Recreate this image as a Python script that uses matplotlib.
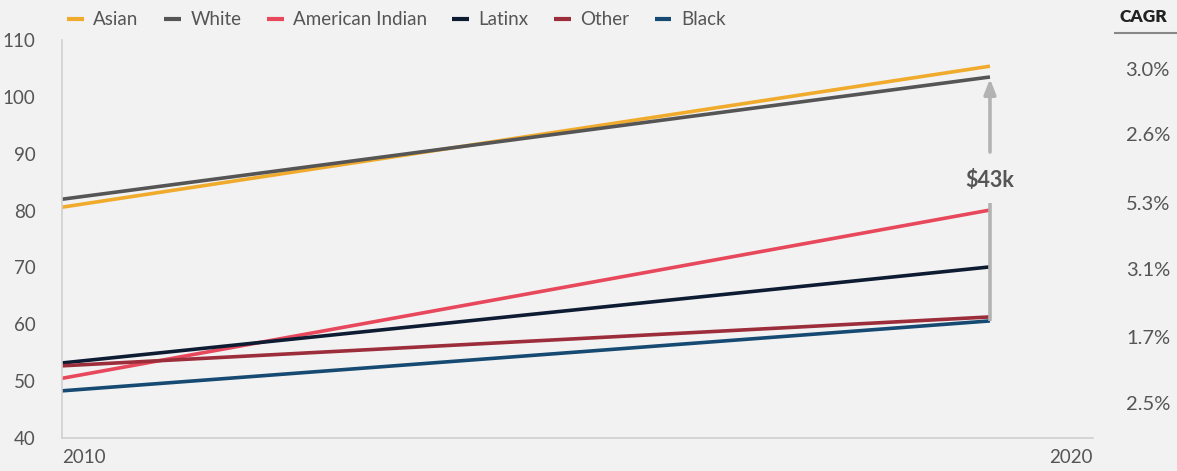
import numpy as np
import matplotlib.pyplot as plt

plt.rcParams['font.family'] = ['Lato', 'DejaVu Sans']

years = [2010, 2019]
groups = ["Asian", "White", "American Indian", "Latinx", "Other", "Black"]
start_values = [80.6, 82.0, 50.5, 53.2, 52.7, 48.3]
end_values = [105.4, 103.5, 80.1, 70.1, 61.3, 60.6]
cagr_labels = ["3.0%", "2.6%", "5.3%", "3.1%", "1.7%", "2.5%"]
gap_label = "$43k"
colors = ["#f0ab2d", "#555555", "#e8485b", "#0e1c33", "#9c2d3a", "#164a72"]

bg = "#f2f2f2"
fig = plt.figure(figsize=(11.77, 4.71), dpi=100, facecolor=bg)
ax = fig.add_axes([0.0527, 0.070, 0.876, 0.845], facecolor=bg)

for name, s, e, c in zip(groups, start_values, end_values, colors):
    ax.plot(years, [s, e], color=c, lw=2.6, label=name, solid_capstyle="butt")

ax.set_xlim(2010, 2020)
ax.set_ylim(40, 110)
ax.set_yticks(np.arange(40, 111, 10))
ax.set_xticks([2010, 2020])
ax.tick_params(axis="both", length=0, labelsize=13.5, labelcolor="#555555")
ax.tick_params(axis="y", pad=19)
ax.tick_params(axis="x", pad=8)
for lbl in ax.get_xticklabels():
    lbl.set_horizontalalignment("left" if lbl.get_text() == "2010" else "right")
for side in ["top", "right"]:
    ax.spines[side].set_visible(False)
for side in ["left", "bottom"]:
    ax.spines[side].set_color("#d0d0d0")
    ax.spines[side].set_linewidth(1.2)

# gap arrow between the top and bottom group at the last year
x_end = years[1]
top = end_values[1]
low = end_values[5]
ax.plot([x_end, x_end], [low, 81.3], color="#b3b3b3", lw=2.6, solid_capstyle="butt")
ax.annotate("", xy=(x_end, top - 0.3), xytext=(x_end, 90.3),
            arrowprops=dict(arrowstyle="-|>,head_width=0.35,head_length=0.9",
                            color="#b3b3b3", lw=2.6, shrinkA=0, shrinkB=0))
ax.text(x_end, 85.3, gap_label, ha="center", va="center", fontsize=15.5,
        fontweight="bold", color="#555555")

leg = ax.legend(loc="lower left", bbox_to_anchor=(0.005, 1.03), ncol=6,
                frameon=False, fontsize=13.5, handlelength=0.9, handletextpad=0.5,
                columnspacing=1.35, borderaxespad=0, borderpad=0)
for t in leg.get_texts():
    t.set_color("#555555")
for h in leg.get_lines():
    h.set_linewidth(3)

# CAGR column on the right
fig.text(1143 / 1177, 1 - 17 / 471, "CAGR", ha="center", va="center",
         fontsize=12.5, fontweight="heavy", color="#222222")
fig.add_artist(plt.Line2D([1115 / 1177, 1.0], [1 - 33 / 471] * 2,
                          color="#888888", lw=1.5))
cagr_y = [71, 136, 204, 271, 338, 404]
for lab, py in zip(cagr_labels, cagr_y):
    fig.text(1170 / 1177, 1 - py / 471, lab, ha="right", va="center",
             fontsize=14.5, color="#555555")

fig.savefig("out.png", dpi=100, facecolor=bg)
